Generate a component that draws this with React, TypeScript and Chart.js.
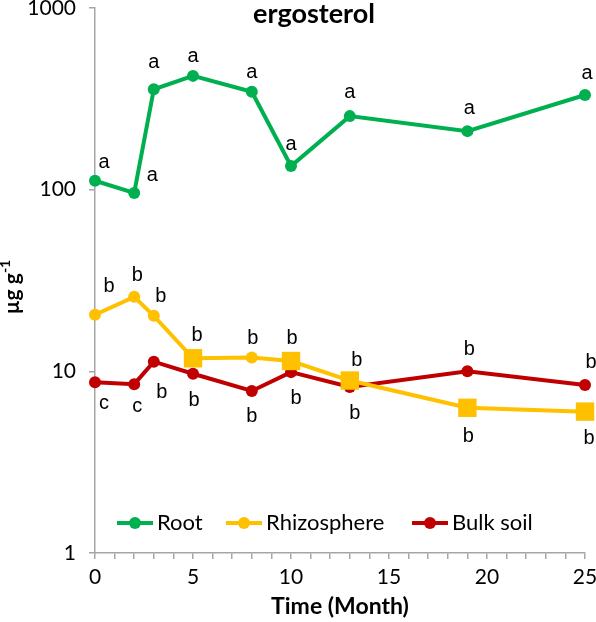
import { useEffect, useRef } from 'react';
import { Chart, registerables } from 'chart.js';

Chart.register(...registerables);

// ---- data ----
const months = [0, 2, 3, 5, 8, 10, 13, 19, 25];
const rootValues = [112, 96, 357, 423, 346, 135, 254, 210, 332];
const rhizoValues = [20.5, 25.7, 20.2, 11.8, 11.9, 11.4, 8.9, 6.3, 6.0];
const bulkValues = [8.7, 8.5, 11.3, 9.7, 7.8, 9.9, 8.2, 10.0, 8.4];

const rootLetters = ['a', 'a', 'a', 'a', 'a', 'a', 'a', 'a', 'a'];
const rhizoLetters = ['b', 'b', 'b', 'b', 'b', 'b', 'b', 'b', 'b'];
const bulkLetters = ['c', 'c', 'b', 'b', 'b', 'b', 'b', 'b', 'b'];

const seriesNames = ['Root', 'Rhizosphere', 'Bulk soil'];
const yTickValues = [1, 10, 100, 1000];
const chartTitle = 'ergosterol';
const xTitle = 'Time (Month)';
const yTitleMain = 'µg g';
const yTitleSup = '-1';

// ---- styles ----
const GREEN = '#00B050';
const YELLOW = '#FFC000';
const RED = '#C00000';
const AXIS = '#A6A6A6';
const LATO = 'Lato, "Open Sans", sans-serif';

const rhizoStyles = ['circle', 'circle', 'circle', 'rect', 'circle', 'rect', 'rect', 'rect', 'rect'];
const rhizoRadius = rhizoStyles.map((s) => (s === 'rect' ? 13 : 6));

const letterOffsets = [
  [[9, -13], [18, -12], [0, -21], [0, -14], [0, -14], [0, -16], [0, -18], [2, -17], [2, -16]],
  [[14, -23], [3, -16], [7, -14], [4, -17], [1, -14], [1, -17], [7, -15], [1, 34], [4, 32]],
  [[9, 27], [3, 28], [8, 36], [1, 32], [0, 31], [5, 32], [5, 32], [2, -16], [6, -17]],
];
const letterSets = [rootLetters, rhizoLetters, bulkLetters];
const legendStarts = [22, 131, 317];

const overlayPlugin = {
  id: 'overlay',
  afterDraw(chart: any) {
    const ctx = chart.ctx as CanvasRenderingContext2D;
    const area = chart.chartArea;
    ctx.save();
    // letters
    ctx.font = '20px "Liberation Sans", Arial, sans-serif';
    ctx.fillStyle = '#000';
    ctx.textAlign = 'center';
    ctx.textBaseline = 'alphabetic';
    letterSets.forEach((letters, di) => {
      const meta = chart.getDatasetMeta(di);
      meta.data.forEach((pt: any, j: number) => {
        const [dx, dy] = letterOffsets[di][j];
        ctx.fillText(letters[j], pt.x + dx, pt.y + dy);
      });
    });
    // title
    ctx.font = `bold 27px ${LATO}`;
    ctx.textAlign = 'center';
    ctx.fillText(chartTitle, area.left + (area.right - area.left) * 0.447, area.top + 15);
    // x title
    ctx.font = `bold 23px ${LATO}`;
    ctx.textBaseline = 'middle';
    ctx.fillText(xTitle, (area.left + area.right) / 2, 607);
    // y title
    ctx.save();
    ctx.translate(19, 287);
    ctx.rotate(-Math.PI / 2);
    ctx.font = `bold 21px ${LATO}`;
    const wMain = ctx.measureText(yTitleMain).width;
    ctx.font = `bold 14px ${LATO}`;
    const wSup = ctx.measureText(yTitleSup).width;
    const total = wMain + wSup;
    ctx.textAlign = 'left';
    ctx.textBaseline = 'alphabetic';
    ctx.font = `bold 21px ${LATO}`;
    ctx.fillText(yTitleMain, -total / 2, 0);
    ctx.font = `bold 14px ${LATO}`;
    ctx.fillText(yTitleSup, -total / 2 + wMain, -9);
    ctx.restore();
    // legend
    const colors = [GREEN, YELLOW, RED];
    const ly = 523;
    ctx.font = `22px ${LATO}`;
    ctx.textAlign = 'left';
    ctx.textBaseline = 'middle';
    seriesNames.forEach((name, i) => {
      const x0 = area.left + legendStarts[i];
      ctx.strokeStyle = colors[i];
      ctx.lineWidth = 4;
      ctx.beginPath();
      ctx.moveTo(x0, ly);
      ctx.lineTo(x0 + 36, ly);
      ctx.stroke();
      ctx.fillStyle = colors[i];
      ctx.beginPath();
      ctx.arc(x0 + 18, ly, 6, 0, Math.PI * 2);
      ctx.fill();
      ctx.fillStyle = '#000';
      ctx.fillText(name, x0 + 40, ly);
    });
    ctx.restore();
  },
};

export default function App() {
  const ref = useRef<HTMLCanvasElement>(null);
  useEffect(() => {
    const canvas = ref.current!;
    const mk = (vals: number[]) => months.map((m, i) => ({ x: m, y: vals[i] }));
    const common = {
      borderWidth: 4,
      pointBorderWidth: 0,
      pointHoverRadius: 6,
      tension: 0,
      clip: false as any,
      fill: false,
    };
    const chart = new Chart(canvas, {
      type: 'line',
      data: {
        datasets: [
          { ...common, label: seriesNames[0], data: mk(rootValues), borderColor: GREEN, backgroundColor: GREEN, pointBackgroundColor: GREEN, pointRadius: 6 },
          { ...common, label: seriesNames[1], data: mk(rhizoValues), borderColor: YELLOW, backgroundColor: YELLOW, pointBackgroundColor: YELLOW, pointStyle: rhizoStyles as any, pointRadius: rhizoRadius, pointHoverRadius: rhizoRadius },
          { ...common, label: seriesNames[2], data: mk(bulkValues), borderColor: RED, backgroundColor: RED, pointBackgroundColor: RED, pointRadius: 6 },
        ],
      },
      options: {
        responsive: false,
        animation: false,
        events: [],
        layout: { autoPadding: false, padding: { top: 8, right: 11, left: 0, bottom: 0 } },
        plugins: { legend: { display: false }, tooltip: { enabled: false }, title: { display: false } },
        scales: {
          x: {
            type: 'linear',
            min: 0,
            max: 25,
            ticks: {
              stepSize: 1,
              autoSkip: false,
              maxRotation: 0,
              callback: (v: any) => (Number(v) % 5 === 0 ? String(v) : ''),
              font: { family: LATO, size: 21 },
              color: '#000',
              padding: 6,
            },
            grid: { drawOnChartArea: false, drawTicks: true, tickLength: 6, color: AXIS, lineWidth: 1.5 },
            border: { display: true, color: AXIS, width: 1.5 },
            afterFit: (s: any) => {
              s.height = 69;
              s.paddingLeft = 0;
              s.paddingRight = 0;
            },
          },
          y: {
            type: 'logarithmic',
            min: 1,
            max: 1000,
            afterBuildTicks: (s: any) => {
              s.ticks = yTickValues.map((v) => ({ value: v }));
            },
            ticks: {
              callback: (v: any) => String(v),
              font: { family: LATO, size: 21 },
              color: '#000',
              padding: 13,
              autoSkip: false,
            },
            grid: { drawOnChartArea: false, drawTicks: true, tickLength: 6, color: AXIS, lineWidth: 1.5 },
            border: { display: true, color: AXIS, width: 1.5 },
            afterFit: (s: any) => {
              s.width = 95;
              s.paddingTop = 0;
              s.paddingBottom = 0;
            },
          },
        },
      } as any,
      plugins: [overlayPlugin],
    });
    return () => chart.destroy();
  }, []);
  return (
    <div style={{ position: 'absolute', left: 0, top: 0, width: 596, height: 622, background: '#fff' }}>
      <canvas ref={ref} width={596} height={622} style={{ display: 'block' }} />
    </div>
  );
}
